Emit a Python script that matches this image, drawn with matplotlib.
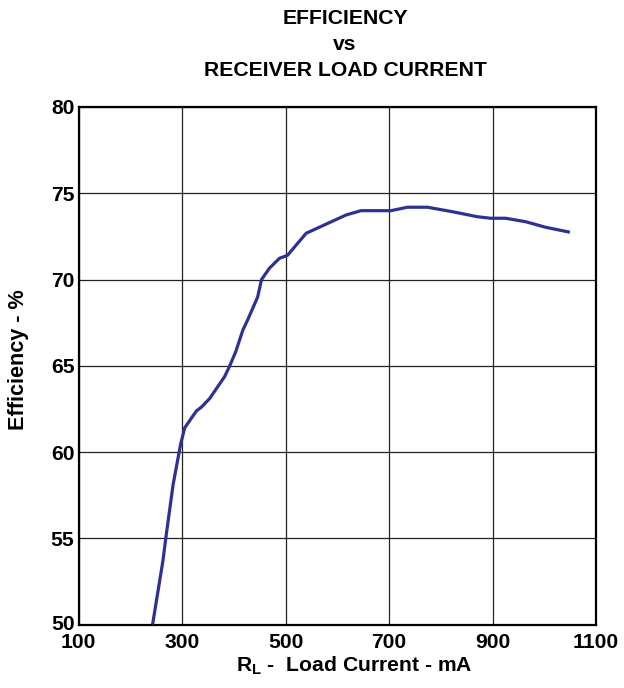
import matplotlib
matplotlib.use("Agg")
import matplotlib.pyplot as plt
import matplotlib.transforms as mtransforms

plt.rcParams['font.family'] = ['Liberation Sans', 'DejaVu Sans']
plt.rcParams['mathtext.fontset'] = 'custom'
plt.rcParams['mathtext.rm'] = 'Liberation Sans:bold'
plt.rcParams['mathtext.bf'] = 'Liberation Sans:bold'

load_ma = [243, 263, 268.5, 282.6, 296.8, 305, 327.7, 337.3, 353.3, 382.2, 391.9,
           403.5, 417.5, 426.6, 446, 453.6, 469, 488.3, 503.7, 539.8, 617, 645.8,
           703.6, 735.6, 774.2, 822.4, 870.6, 896.4, 925.3, 963.9, 1002.4, 1049.5]
efficiency = [50.0, 53.7, 55.0, 58.1, 60.4, 61.4, 62.38, 62.6, 63.1, 64.37, 64.98,
              65.8, 67.07, 67.65, 68.98, 70.0, 70.66, 71.23, 71.4, 72.68, 73.74, 73.99,
              73.99, 74.19, 74.19, 73.93, 73.64, 73.55, 73.55, 73.35, 73.03, 72.74]

xticks = [100, 300, 500, 700, 900, 1100]
yticks = [50, 55, 60, 65, 70, 75, 80]

fs = 15.2

fig = plt.figure(figsize=(6.24, 6.88), dpi=100)
ax = fig.add_axes([78.6/624, 1 - 624.5/688, (596 - 78.6)/624, (624.5 - 107)/688])

ax.plot(load_ma, efficiency, color='#2E3192', linewidth=2.3, solid_capstyle='butt', zorder=3)

ax.set_xlim(100, 1100)
ax.set_ylim(50, 80)
ax.set_xticks(xticks)
ax.set_yticks(yticks)
ax.set_xticklabels([str(v) for v in xticks], fontsize=fs, fontweight='bold')
ax.set_yticklabels([str(v) for v in yticks], fontsize=fs, fontweight='bold')
ax.tick_params(axis='x', length=0, pad=6)
ax.tick_params(axis='y', length=0, pad=3)
ax.grid(True, color='#222222', linewidth=0.9)
for s in ax.spines.values():
    s.set_linewidth(1.6)
    s.set_color('black')

# nudge the bottom y label slightly up, as in the reference
lbl50 = ax.get_yticklabels()[0]
lbl50.set_transform(lbl50.get_transform() + mtransforms.ScaledTranslation(0, 2/100, fig.dpi_scale_trans))

fig.text(345/624, 1 - 18/688, 'EFFICIENCY', ha='center', va='center', fontsize=fs, fontweight='bold')
fig.text(345/624, 1 - 45/688, 'vs', ha='center', va='center', fontsize=fs, fontweight='bold')
fig.text(345/624, 1 - 71/688, 'RECEIVER LOAD CURRENT', ha='center', va='center', fontsize=fs, fontweight='bold')

fig.text(354/624, 1 - 666/688, r'R$\mathregular{_L}$ -  Load Current - mA', ha='center', va='center',
         fontsize=fs, fontweight='bold')
fig.text(19/624, 1 - 360/688, 'Efficiency - %', ha='center', va='center', rotation=90,
         fontsize=15.6, fontweight='bold')

fig.savefig('out.png', dpi=100)
